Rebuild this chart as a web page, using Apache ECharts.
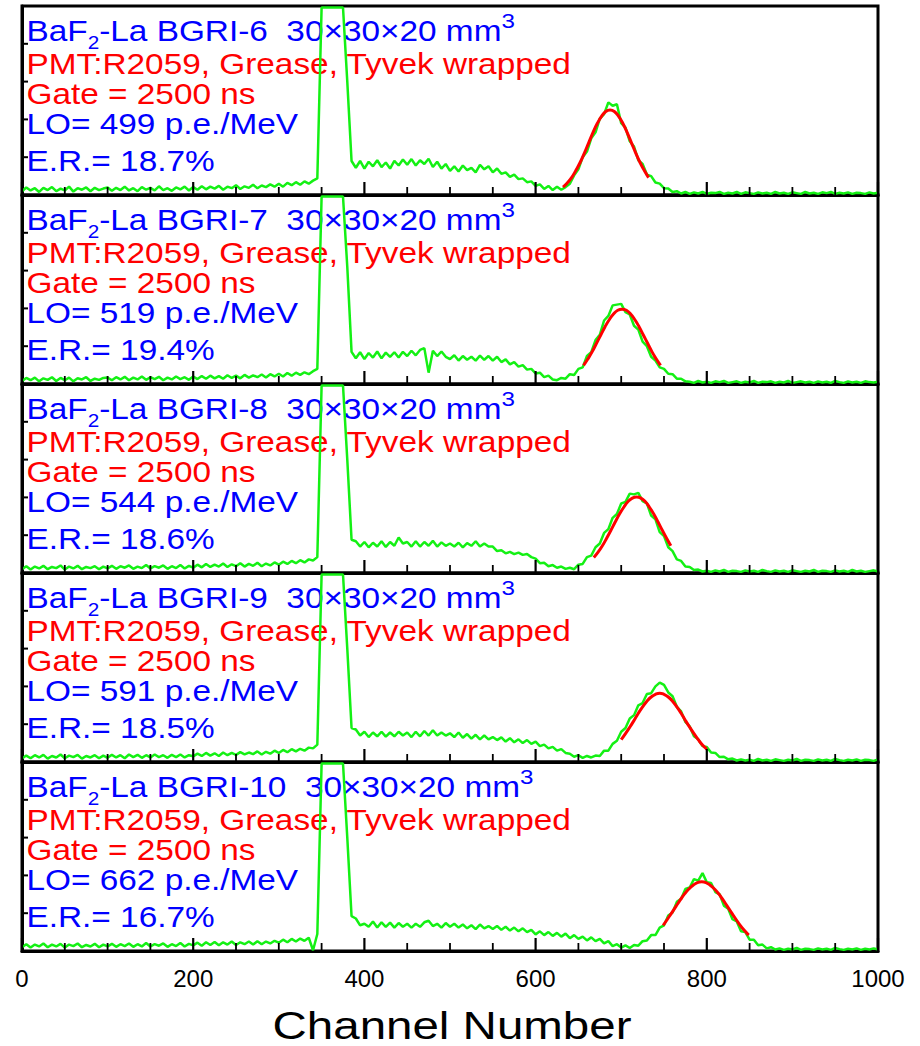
<!DOCTYPE html>
<html><head><meta charset="utf-8">
<script src="https://cdn.jsdelivr.net/npm/echarts@6/dist/echarts.min.js"></script>
<style>html,body{margin:0;padding:0;background:#fff}#c{width:920px;height:1046px}</style>
</head><body><div id="c"></div>
<script>
// Spectra: one value every CH_STEP channels starting at channel 0 (y in tick units, axis 0..5)
const CH_STEP = 5;
const spec6 = [
.1,.2,.12,.18,.08,.19,.13,.21,.1,.17,.12,.22,.09,.18,.14,.2,.1,.19,.13,.17,
.2,.11,.19,.13,.22,.12,.18,.1,.21,.14,.19,.12,.23,.13,.18,.11,.2,.15,.22,.12,
.21,.14,.23,.15,.22,.17,.24,.14,.22,.18,.26,.16,.23,.19,.27,.18,.25,.21,.28,.22,
.3,.22,.32,.26,.34,.27,.36,.3,.38,.44,
4.96,4.96,4.96,4.96,4.96,4.96,
3.0,.9,
.72,.9,.7,.88,.76,.92,.74,.86,.7,.9,.78,.94,
.8,.95,.78,.92,.82,.96,.74,.88,.7,.82,
.64,.76,.62,.78,.66,.72,.6,.8,.68,.76,
.6,.7,.56,.6,.48,.54,.42,.44,.34,.36,
.24,.28,.16,.24,.13,.22,.14,.21,
.3,.52,.68,1.0,1.15,1.5,1.66,2.02,
2.14,2.45,2.36,2.4,
1.9,1.78,1.42,1.28,.92,.82,.54,.5,
.33,.3,.18,.17,.08,.1,.04,.08,
.03,.07,.04,.08,.03,.06,.05,.08,.03,.06,.04,.08,.03,.07,.05,.03,.07,.04,.06,.03,
.08,.04,.06,.03,.07,.05,.03,.08,.04,.06,.03,.07,.05,.08,.03,.06,.04,.07,.03,.06,
.05,.03,.07,.04,.06
];
const spec7 = [
.08,.16,.1,.17,.07,.15,.11,.18,.08,.16,.1,.17,.07,.15,.12,.18,.08,.14,.11,.16,
.17,.1,.18,.12,.19,.1,.17,.12,.2,.11,.18,.13,.19,.1,.17,.12,.2,.13,.18,.11,
.2,.13,.21,.14,.22,.15,.21,.14,.23,.16,.22,.15,.24,.17,.23,.18,.25,.17,.26,.2,
.27,.2,.29,.22,.3,.24,.31,.26,.34,.4,
4.96,4.96,4.96,4.96,4.96,4.96,
3.1,.85,
.68,.84,.66,.82,.7,.86,.68,.83,.72,.84,.7,.85,
.74,.88,.76,.9,.95,.3,.88,.74,.86,.72,
.66,.76,.62,.74,.64,.72,.62,.75,.64,.74,
.62,.72,.58,.65,.52,.58,.46,.5,.38,.4,
.28,.3,.18,.22,.12,.1,.16,.14,
.26,.24,.4,.44,.74,.84,1.16,1.3,
1.68,1.8,2.08,2.1,
2.12,1.9,1.84,1.54,1.44,1.12,1.0,.72,
.62,.44,.4,.27,.26,.14,.14,.07,
.06,.03,.08,.04,.06,.03,.07,.05,.08,.03,.05,.07,.03,.06,.04,.08,.03,.06,.05,.07,
.03,.06,.04,.08,.03,.05,.07,.04,.06,.03,.07,.04,.06,.03,.08,.05,.03,.07,.04,.06,
.03,.07,.05,.04,.06
];
const spec8 = [
.1,.18,.09,.17,.12,.19,.1,.16,.13,.2,.09,.17,.12,.19,.1,.16,.13,.18,.1,.17,
.12,.19,.11,.18,.14,.2,.11,.17,.13,.21,.12,.18,.14,.2,.11,.18,.13,.21,.12,.19,
.14,.22,.15,.24,.16,.22,.17,.25,.16,.23,.18,.26,.17,.24,.19,.27,.18,.25,.2,.28,
.22,.3,.24,.32,.26,.34,.28,.36,.33,.42,
4.96,4.96,4.96,4.96,4.96,4.96,
3.0,.88,
.84,.7,.82,.68,.8,.7,.84,.69,.82,.72,.94,.78,
.82,.7,.84,.7,.82,.72,.85,.7,.81,.72,
.78,.7,.8,.68,.79,.72,.84,.7,.78,.7,
.7,.58,.6,.52,.56,.5,.54,.48,.5,.42,
.38,.26,.27,.18,.21,.14,.17,.11,
.14,.1,.22,.24,.42,.46,.68,.78,
1.06,1.16,1.46,1.56,1.84,1.88,2.1,2.08,
2.12,1.9,1.84,1.52,1.42,1.08,.98,.68,
.58,.36,.32,.17,.16,.08,.09,.04,
.06,.03,.07,.04,.08,.03,.06,.05,.03,.07,.04,.06,.03,.08,.05,.03,.07,.04,.06,.03,
.07,.05,.03,.06,.04,.08,.03,.06,.05,.03,.07,.04,.06,.03,.08,.04,.06,.03,.05,.07,
.04
];
const spec9 = [
.09,.17,.1,.18,.12,.19,.09,.16,.12,.2,.1,.17,.13,.19,.09,.16,.12,.18,.1,.17,
.11,.19,.12,.18,.1,.2,.13,.19,.11,.18,.12,.2,.13,.18,.11,.19,.13,.2,.12,.18,
.15,.22,.16,.24,.17,.23,.16,.25,.18,.24,.19,.26,.2,.25,.21,.28,.2,.27,.22,.3,
.24,.32,.26,.34,.28,.35,.3,.38,.36,.46,
4.96,4.96,4.96,4.96,4.96,4.96,
3.0,.9,
.86,.7,.8,.66,.78,.68,.8,.67,.78,.68,.8,.7,
.78,.66,.8,.68,.82,.7,.84,.7,.78,.7,
.76,.66,.78,.64,.74,.62,.72,.6,.7,.6,
.66,.58,.65,.54,.63,.52,.6,.5,.58,.48,
.54,.42,.46,.36,.4,.3,.34,.24,
.22,.14,.18,.11,.16,.12,.17,.16,
.3,.3,.48,.56,.8,.9,1.15,1.24,
1.5,1.56,1.8,1.82,2.0,2.1,2.04,1.84,
1.74,1.46,1.34,1.06,.94,.68,.6,.42,
.4,.25,.24,.13,.14,.07,.09,.04,
.07,.04,.06,.03,.08,.04,.06,.03,.07,.05,.03,.06,.04,.08,.03,.06,.05,.03,.07,.04,
.06,.03,.08,.05,.03,.06,.04,.07,.03,.06,.05,.03,.07
];
const spec10 = [
.1,.18,.09,.17,.12,.2,.1,.17,.12,.19,.09,.17,.13,.2,.1,.16,.12,.19,.1,.17,
.12,.19,.11,.18,.13,.2,.11,.18,.12,.21,.12,.18,.14,.2,.11,.18,.13,.21,.12,.19,
.15,.22,.14,.23,.16,.24,.15,.23,.17,.25,.16,.23,.18,.25,.17,.26,.18,.25,.2,.27,
.22,.3,.23,.32,.25,.33,.27,.35,.02,.45,
4.96,4.96,4.96,4.96,4.96,4.96,
3.0,.92,
.86,.68,.72,.64,.78,.62,.76,.64,.75,.62,.74,.64,
.72,.62,.72,.64,.76,.8,.66,.72,.62,.74,
.64,.72,.62,.7,.6,.68,.58,.7,.6,.66,
.58,.66,.56,.64,.54,.62,.52,.6,.5,.56,
.44,.52,.42,.5,.4,.48,.38,.46,
.34,.42,.32,.38,.28,.36,.26,.32,
.2,.26,.13,.18,.09,.15,.08,.16,
.14,.26,.28,.42,.42,.62,.68,.94,
1.02,1.3,1.38,1.64,1.68,1.9,1.86,2.06,
1.82,1.8,1.56,1.5,1.2,1.12,.84,.78,
.52,.5,.3,.3,.15,.17,.07,.1,
.04,.07,.03,.06,.04,.08,.03,.06,.05,.03,.07,.04,.06,.03,.08,.05,.03,.06,.04,.07,
.03,.06,.04,.07,.04
];
// Gaussian fits (red)
const fitCh6 = [632,637,642,647,652,657,662,667,672,677,682,687,692,697,702,707,712,717,722,727,732];
const fitV6  = [.21,.32,.46,.65,.86,1.11,1.38,1.65,1.89,2.08,2.21,2.25,2.21,2.08,1.89,1.65,1.38,1.11,.86,.65,.46];
const fitCh7 = [656,661,666,671,676,681,686,691,696,701,706,711,716,721,726,731,736,741,746];
const fitV7  = [.49,.66,.85,1.07,1.29,1.51,1.70,1.85,1.95,1.98,1.95,1.85,1.70,1.51,1.29,1.07,.85,.66,.49];
const fitCh8 = [668,673,678,683,688,693,698,703,708,713,718,723,728,733,738,743,748,753,758];
const fitV8  = [.41,.55,.72,.92,1.13,1.35,1.56,1.74,1.89,1.98,2.01,1.98,1.89,1.74,1.56,1.35,1.13,.92,.72];
const fitCh9 = [700,705,710,715,720,725,730,735,740,745,750,755,760,765,770,775,780,785,790,795,800];
const fitV9  = [.59,.75,.92,1.10,1.29,1.46,1.61,1.72,1.79,1.82,1.79,1.72,1.61,1.46,1.29,1.10,.92,.75,.59,.45,.34];
const fitCh10 = [749,754,759,764,769,774,779,784,789,794,799,804,809,814,819,824,829,834,839,844,849];
const fitV10  = [.68,.84,1.01,1.18,1.35,1.51,1.64,1.74,1.81,1.83,1.81,1.74,1.64,1.51,1.35,1.18,1.01,.84,.68,.54,.42];

const crystals = ['BGRI-6','BGRI-7','BGRI-8','BGRI-9','BGRI-10'];
const lightOutput = ['499','519','544','591','662'];
const energyRes = ['18.7','19.4','18.6','18.5','16.7'];
const xTickStep = 200, xMinorStep = 50, yTickStep = 1;

const spectra = [spec6, spec7, spec8, spec9, spec10];
const fitChs = [fitCh6, fitCh7, fitCh8, fitCh9, fitCh10];
const fitVs = [fitV6, fitV7, fitV8, fitV9, fitV10];

const FAMILY = '"Liberation Sans", Arial, sans-serif';
const LEFT = 22, RIGHT = 42, TOP0 = 6, PH = 189;
const SX = 1.15;  // horizontal text stretch of the reference
const ctx = document.createElement('canvas').getContext('2d');
function textW(t, size) { ctx.font = size + 'px ' + FAMILY; return ctx.measureText(t).width; }

// tick positions along the axes (inward ticks drawn through the axis scales)
const xTickVals = [];
for (let v = 0; v <= 1000; v += xMinorStep) xTickVals.push(v);
const yTickVals = [1, 2, 3, 4];

const grids = [], xAxes = [], yAxes = [], series = [], graphics = [];
for (let i = 0; i < 5; i++) {
  const top = TOP0 + PH * i;
  grids.push({left: LEFT, right: RIGHT, top: top, height: PH, show: true,
    borderColor: '#000', borderWidth: 3, backgroundColor: 'rgba(0,0,0,0)'});
  xAxes.push({gridIndex: i, type: 'value', min: 0, max: 1000, interval: xTickStep,
    axisLine: {show: true, onZero: false, lineStyle: {color: '#000', width: 3}},
    axisTick: {show: false}, minorTick: {show: false},
    splitLine: {show: false}, minorSplitLine: {show: false},
    axisLabel: {show: i === 4, fontSize: 24, color: '#000', fontFamily: FAMILY, margin: 15,
      formatter: v => String(v)}});
  yAxes.push({gridIndex: i, type: 'value', min: 0, max: 5, interval: yTickStep,
    axisLine: {show: true, lineStyle: {color: '#000', width: 3}},
    axisTick: {show: false},
    axisLabel: {show: false}, splitLine: {show: false}});
  series.push({type: 'line', xAxisIndex: i, yAxisIndex: i, showSymbol: false, symbol: 'none',
    data: spectra[i].map((v, k) => [k * CH_STEP, v]),
    lineStyle: {color: '#14f014', width: 2.5}, z: 2, animation: false});
  series.push({type: 'line', xAxisIndex: i, yAxisIndex: i, showSymbol: false, symbol: 'none', smooth: true,
    data: fitChs[i].map((c, k) => [c, fitVs[i][k]]),
    lineStyle: {color: '#ff0000', width: 3}, z: 3, animation: false});
  // x ticks (major every 200, minor every 50), pointing inward
  series.push({type: 'custom', xAxisIndex: i, yAxisIndex: i, silent: true, clip: false, z: 6, animation: false,
    data: xTickVals.map(v => [v, 0]),
    renderItem: (params, api) => {
      const v = api.value(0);
      const p = api.coord([v, 0]);
      const major = v % xTickStep === 0;
      return {type: 'line', shape: {x1: p[0], y1: p[1], x2: p[0], y2: p[1] - (major ? 13 : 8)},
        style: {stroke: '#000', lineWidth: major ? 2.2 : 1.8}};
    }});
  // y ticks on the left, pointing inward
  series.push({type: 'custom', xAxisIndex: i, yAxisIndex: i, silent: true, clip: false, z: 6, animation: false,
    data: yTickVals.map(v => [0, v]),
    renderItem: (params, api) => {
      const p = api.coord([0, api.value(1)]);
      return {type: 'line', shape: {x1: p[0], y1: p[1], x2: p[0] + 6, y2: p[1]},
        style: {stroke: '#000', lineWidth: 2}};
    }});

  const blue = '#0000ff', red = '#ff0000';
  const lines = [
    {parts: [['BaF', 29, 0], ['2', 18, 7], ['-La ' + crystals[i] + '  30×30×20 mm', 29, 0], ['3', 21, -13]], c: blue, base: 35.7},
    {parts: [['PMT:R2059, Grease, Tyvek wrapped', 29, 0]], c: red, base: 68},
    {parts: [['Gate = 2500 ns', 29, 0]], c: red, base: 98},
    {parts: [['LO= ' + lightOutput[i] + ' p.e./MeV', 29, 0]], c: blue, base: 128},
    {parts: [['E.R.= ' + energyRes[i] + '%', 29, 0]], c: blue, base: 165.7}
  ];
  lines.forEach(L => {
    let x = 26.5;
    L.parts.forEach(([t, size, shift]) => {
      const baseline = top + L.base + shift;
      graphics.push({type: 'text', x: x, y: baseline - 0.3465 * size, scaleX: SX, z: 1,
        style: {text: t, fontSize: size, fontFamily: FAMILY, fill: L.c, align: 'left', verticalAlign: 'middle'}});
      x += textW(t, size) * SX;
    });
  });
}
graphics.push({type: 'text', x: 452, y: 1038.5 - 0.3465 * 38, scaleX: 1.25, z: 5,
  style: {text: 'Channel Number', fontSize: 38, fontFamily: FAMILY, fill: '#000', align: 'center', verticalAlign: 'middle'}});

const chart = echarts.init(document.getElementById('c'), null, {renderer: 'svg'});
chart.setOption({
  animation: false,
  backgroundColor: '#fff',
  grid: grids, xAxis: xAxes, yAxis: yAxes, series: series, graphic: graphics
});
</script></body></html>
